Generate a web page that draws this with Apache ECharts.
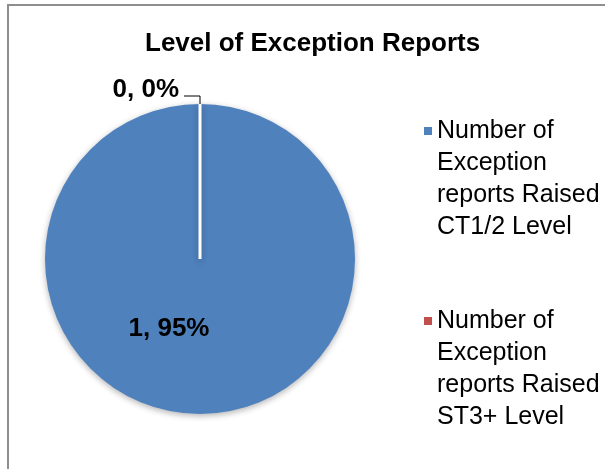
<!DOCTYPE html>
<html>
<head>
<meta charset="utf-8">
<script src="https://cdn.jsdelivr.net/npm/echarts@6/dist/echarts.min.js"></script>
<style>
  html, body { margin: 0; padding: 0; background: #fff; overflow: hidden; }
  #frame { position: absolute; left: 7px; top: 4px; width: 700px; height: 600px;
           border-left: 2px solid #8e8e8e; border-top: 2px solid #8e8e8e; }
  #chart { position: absolute; left: 0; top: 0; width: 605px; height: 469px; }
</style>
</head>
<body>
<div id="frame"></div>
<div id="chart"></div>
<script>
// chart data
const categories = [
    'Number of\nException\nreports Raised\nCT1/2 Level',
    'Number of\nException\nreports Raised\nST3+ Level'
];
const values = [1, 0];
const percentLabels = ['95%', '0%'];
const colors = ['#4F81BD', '#C0504D'];

let chart = echarts.init(document.getElementById('chart'));

const pieData = categories.map(function (name, i) {
    let item = { name: name, value: values[i], itemStyle: { color: colors[i] } };
    if (i === 0) {
        item.label = { position: 'inside', offset: [-31, -11] };
    } else {
        item.label = { position: 'outside', offset: [0, -6] };
        item.labelLine = { show: true, length: 8, length2: 16,
            lineStyle: { color: '#000', width: 1 } };
        item.itemStyle.borderColor = '#fff';
        item.itemStyle.borderWidth = 3;
        item.itemStyle.borderJoin = 'bevel';
    }
    return item;
});

chart.setOption({
    animation: false,
    title: {
        text: 'Level of Exception Reports',
        left: 140,
        top: 26,
        textStyle: { fontFamily: 'Liberation Sans', fontSize: 26, fontWeight: 'bold', color: '#000' }
    },
    legend: {
        orient: 'vertical',
        left: 424,
        top: 19,
        padding: 0,
        itemGap: -34,
        icon: 'rect',
        itemWidth: 8,
        itemHeight: 8,
        selectedMode: false,
        data: categories,
        itemStyle: { borderWidth: 0, shadowBlur: 0 },
        // blank lines on top so the marker sits beside the first line
        formatter: function (name) { return '\n\n\n' + name; },
        textStyle: {
            fontFamily: 'Liberation Sans',
            fontSize: 25,
            lineHeight: 32,
            color: '#000'
        }
    },
    series: [{
        type: 'pie',
        center: [200, 259],
        radius: 155,
        startAngle: 90,
        clockwise: true,
        avoidLabelOverlap: false,
        label: {
            show: true,
            fontFamily: 'Liberation Sans',
            fontSize: 26,
            fontWeight: 'bold',
            color: '#000',
            formatter: function (p) {
                return values[p.dataIndex] + ', ' + percentLabels[p.dataIndex];
            }
        },
        itemStyle: {
            shadowBlur: 6,
            shadowColor: 'rgba(0,0,0,0.3)',
            shadowOffsetY: 2
        },
        emphasis: { disabled: true },
        data: pieData
    }]
});
</script>
</body>
</html>
